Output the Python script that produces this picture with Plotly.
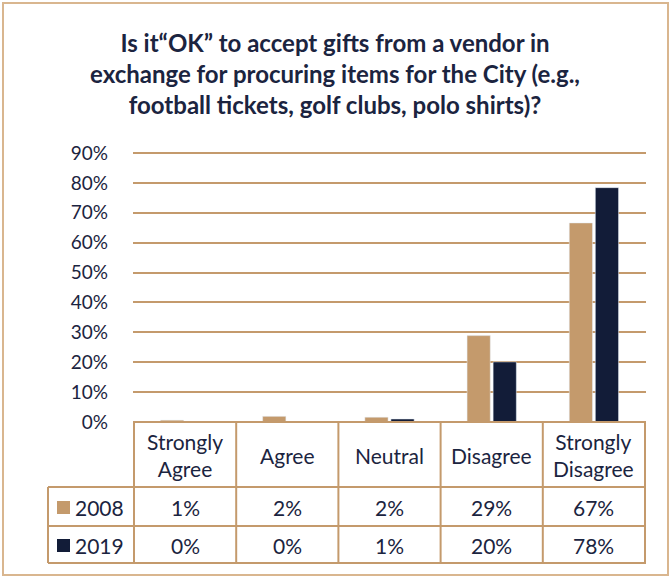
import plotly.graph_objects as go

# survey answers (x axis / table columns)
categories = ["Strongly Agree", "Agree", "Neutral", "Disagree", "Strongly Disagree"]
header_labels = ["Strongly<br>Agree", "Agree", "Neutral", "Disagree", "Strongly<br>Disagree"]

# bar heights, in percent
values_2008 = [0.6, 1.9, 1.6, 28.9, 66.6]
values_2019 = [0.1, 0.1, 1.0, 20.1, 78.4]

# values printed in the data table
table_2008 = ["1%", "2%", "2%", "29%", "67%"]
table_2019 = ["0%", "0%", "1%", "20%", "78%"]

y_ticks = [0, 10, 20, 30, 40, 50, 60, 70, 80, 90]

TAN = "#c49a6c"
NAVY = "#121c38"
TEXT = "#1b2440"
FONT = "Lato"

W, H = 670, 576
# top margin leaves a hair of room above the 90% line so plotly draws it
ML, MR, MT, MB = 133, 24, 150, 154
PW, PH = W - ML - MR, H - MT - MB


# pixel -> paper helpers, used for the table grid drawn under the plot
def px(x):
    return (x - ML) / PW


def py(y):
    return (H - MB - y) / PH


fig = go.Figure()
fig.add_trace(go.Bar(x=categories, y=values_2008, name="2008", marker_color=TAN))
fig.add_trace(go.Bar(x=categories, y=values_2019, name="2019", marker_color=NAVY))

layout = dict(
    width=W,
    height=H,
    margin=dict(l=ML, r=MR, t=MT, b=MB),
    paper_bgcolor="white",
    plot_bgcolor="white",
    showlegend=False,
    barmode="group",
    bargap=0.49,
    bargroupgap=0.11,
    font=dict(family=FONT, color=TEXT),
    title=dict(
        text="Is it\u201cOK\u201d to accept gifts from a vendor in<br>"
             "exchange for procuring items for the City (e.g.,<br>"
             "football tickets, golf clubs, polo shirts)?",
        x=0.5,
        xanchor="center",
        y=1 - 52 / H,
        yanchor="middle",
        font=dict(family=FONT, size=24, color=TEXT, weight="bold"),
    ),
    xaxis=dict(showticklabels=False, showgrid=False, zeroline=False,
               showline=False, ticks=""),
    yaxis=dict(
        range=[0, 91],
        tickvals=y_ticks,
        ticktext=[f"{v}%" for v in y_ticks],
        tickfont=dict(size=19, color=TEXT),
        ticklabelstandoff=24,
        showgrid=True,
        gridcolor=TAN,
        gridwidth=2,
        zeroline=False,
        showline=False,
        ticks="",
    ),
)
fig.update_layout(layout)

shapes = []
line = dict(color=TAN, width=2)

# outer frame
shapes.append(dict(type="rect", xref="paper", yref="paper",
                   x0=px(3), x1=px(668), y0=py(3), y1=py(575),
                   line=dict(color="#d9b68f", width=2), layer="below"))

# table horizontal lines
shapes.append(dict(type="line", xref="paper", yref="paper", x0=0, x1=1,
                   y0=py(422), y1=py(422), line=line))
for yy in [487, 526, 563]:
    shapes.append(dict(type="line", xref="paper", yref="paper",
                       x0=px(48), x1=1, y0=py(yy), y1=py(yy), line=line))
# table vertical lines, at category boundaries
for i in range(len(categories) + 1):
    shapes.append(dict(type="line", xref="x", yref="paper",
                       x0=i - 0.5, x1=i - 0.5, y0=py(422), y1=py(563), line=line))
shapes.append(dict(type="line", xref="paper", yref="paper",
                   x0=px(48), x1=px(48), y0=py(487), y1=py(563), line=line))

# legend keys
shapes.append(dict(type="rect", xref="paper", yref="paper",
                   x0=px(57), x1=px(70), y0=py(501), y1=py(514),
                   fillcolor=TAN, line=dict(width=0)))
shapes.append(dict(type="rect", xref="paper", yref="paper",
                   x0=px(57), x1=px(70), y0=py(539), y1=py(552),
                   fillcolor=NAVY, line=dict(width=0)))

annotations = []
cell_font = dict(size=21, color=TEXT)
for cat, lab, a, b in zip(categories, header_labels, table_2008, table_2019):
    annotations.append(dict(x=cat, xref="x", y=py(455), yref="paper", text=lab,
                            showarrow=False, font=cell_font, yanchor="middle"))
    annotations.append(dict(x=cat, xref="x", y=py(507), yref="paper", text=a,
                            showarrow=False, font=cell_font, yanchor="middle"))
    annotations.append(dict(x=cat, xref="x", y=py(545), yref="paper", text=b,
                            showarrow=False, font=cell_font, yanchor="middle"))
for name, yy in [("2008", 507), ("2019", 545)]:
    annotations.append(dict(x=px(73), xref="paper", y=py(yy), yref="paper",
                            text=name, showarrow=False, xanchor="left",
                            yanchor="middle", font=cell_font))

fig.update_layout(shapes=shapes, annotations=annotations)

# the page body has a default margin that would push the chart off its spot
fig.write_html("out.html", config={"displayModeBar": False},
               post_script="document.body.style.margin='0';")
